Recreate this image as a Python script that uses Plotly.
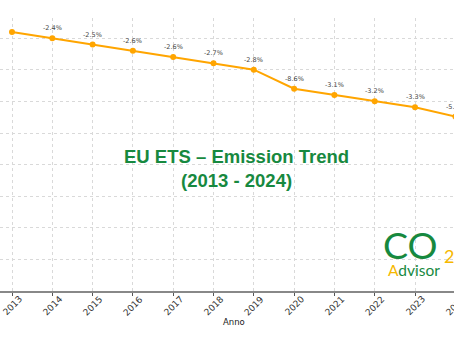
import plotly.graph_objects as go

# EU ETS verified emissions (Mt CO2e) and year-on-year change labels
years = [2013, 2014, 2015, 2016, 2017, 2018, 2019, 2020, 2021, 2022, 2023, 2024]
emissions = [2049, 2000, 1950, 1900, 1851, 1801, 1751, 1600, 1551, 1502, 1453, 1380]
change_labels = ["", "-2.4%", "-2.5%", "-2.6%", "-2.6%", "-2.7%", "-2.8%",
                 "-8.6%", "-3.1%", "-3.2%", "-3.3%", "-5.0%"]
tick_labels = [str(y) for y in years]

GREEN = "#17893f"
YELLOW = "#f6b800"
ORANGE = "#ffa500"

W, H = 468, 341
L, T, B = 0, 18, 50
plot_h = H - T - B


def px_x(px):
    return px / W


def px_y(py):
    return (H - B - py) / plot_h


fig = go.Figure()
fig.add_trace(go.Scatter(
    x=years, y=emissions, mode="lines+markers",
    line=dict(color=ORANGE, width=2),
    marker=dict(color=ORANGE, size=6),
    cliponaxis=False, hoverinfo="skip", showlegend=False,
))

annotations = []
for yr, val, lab in zip(years, emissions, change_labels):
    if lab:
        annotations.append(dict(
            x=yr, y=val, xref="x", yref="y", text=lab, showarrow=False,
            yshift=10, font=dict(family="DejaVu Sans", size=6.5, color="#444444"),
        ))

# rotated year labels, centred under each tick
for yr, lab in zip(years, tick_labels):
    annotations.append(dict(
        x=yr, y=px_y(305.5), xref="x", yref="paper", text=lab, showarrow=False,
        textangle=-45, xanchor="center", yanchor="middle",
        font=dict(family="DejaVu Sans", size=9, color="#333333"),
    ))

# x-axis title
annotations.append(dict(
    x=px_x(234), y=px_y(322), xref="paper", yref="paper", text="Anno",
    showarrow=False, xanchor="center", yanchor="middle",
    font=dict(family="DejaVu Sans", size=8.5, color="#222222"),
))

# centred chart title inside the plot
annotations.append(dict(
    x=px_x(236.5), y=px_y(168), xref="paper", yref="paper",
    text="<b>EU ETS – Emission Trend</b><br><b>(2013 - 2024)</b>",
    showarrow=False, xanchor="center", yanchor="middle",
    font=dict(family="Liberation Sans", size=18.5, color=GREEN),
))

# CO2 Advisor logo
annotations.append(dict(
    x=px_x(381), y=px_y(245), xref="paper", yref="paper", text="CO",
    showarrow=False, xanchor="left", yanchor="middle",
    font=dict(family="Lato", size=37.5, color=GREEN),
))
annotations.append(dict(
    x=px_x(442), y=px_y(256), xref="paper", yref="paper", text="2",
    showarrow=False, xanchor="left", yanchor="middle",
    font=dict(family="Lato", size=18, color=YELLOW),
))
annotations.append(dict(
    x=px_x(386), y=px_y(270), xref="paper", yref="paper",
    text=f"<span style='color:{YELLOW}'>A</span>dvisor",
    showarrow=False, xanchor="left", yanchor="middle",
    font=dict(family="Lato", size=15.5, color=GREEN),
))

fig.update_layout(
    width=W, height=H,
    margin=dict(l=L, r=0, t=T, b=B, pad=0),
    paper_bgcolor="white", plot_bgcolor="white",
    annotations=annotations,
    xaxis=dict(
        range=[2013 - 12 / 40.3, 2013 + 456 / 40.3],
        tickmode="array", tickvals=years, showticklabels=False,
        ticks="outside", ticklen=3, tickcolor="#555555",
        showgrid=True, gridcolor="#d9d9d9", griddash="dot", gridwidth=1,
        showline=True, linecolor="#888888", linewidth=2,
        zeroline=False,
    ),
    yaxis=dict(
        range=[0, (H - B - T) / 0.1264],
        dtick=250, tick0=0,
        showticklabels=False, ticks="",
        showgrid=True, gridcolor="#d9d9d9", griddash="dot", gridwidth=1,
        zeroline=False, showline=False,
    ),
)

fig.write_html("out.html", post_script="document.body.style.overflow='hidden';document.body.style.margin='0';")
